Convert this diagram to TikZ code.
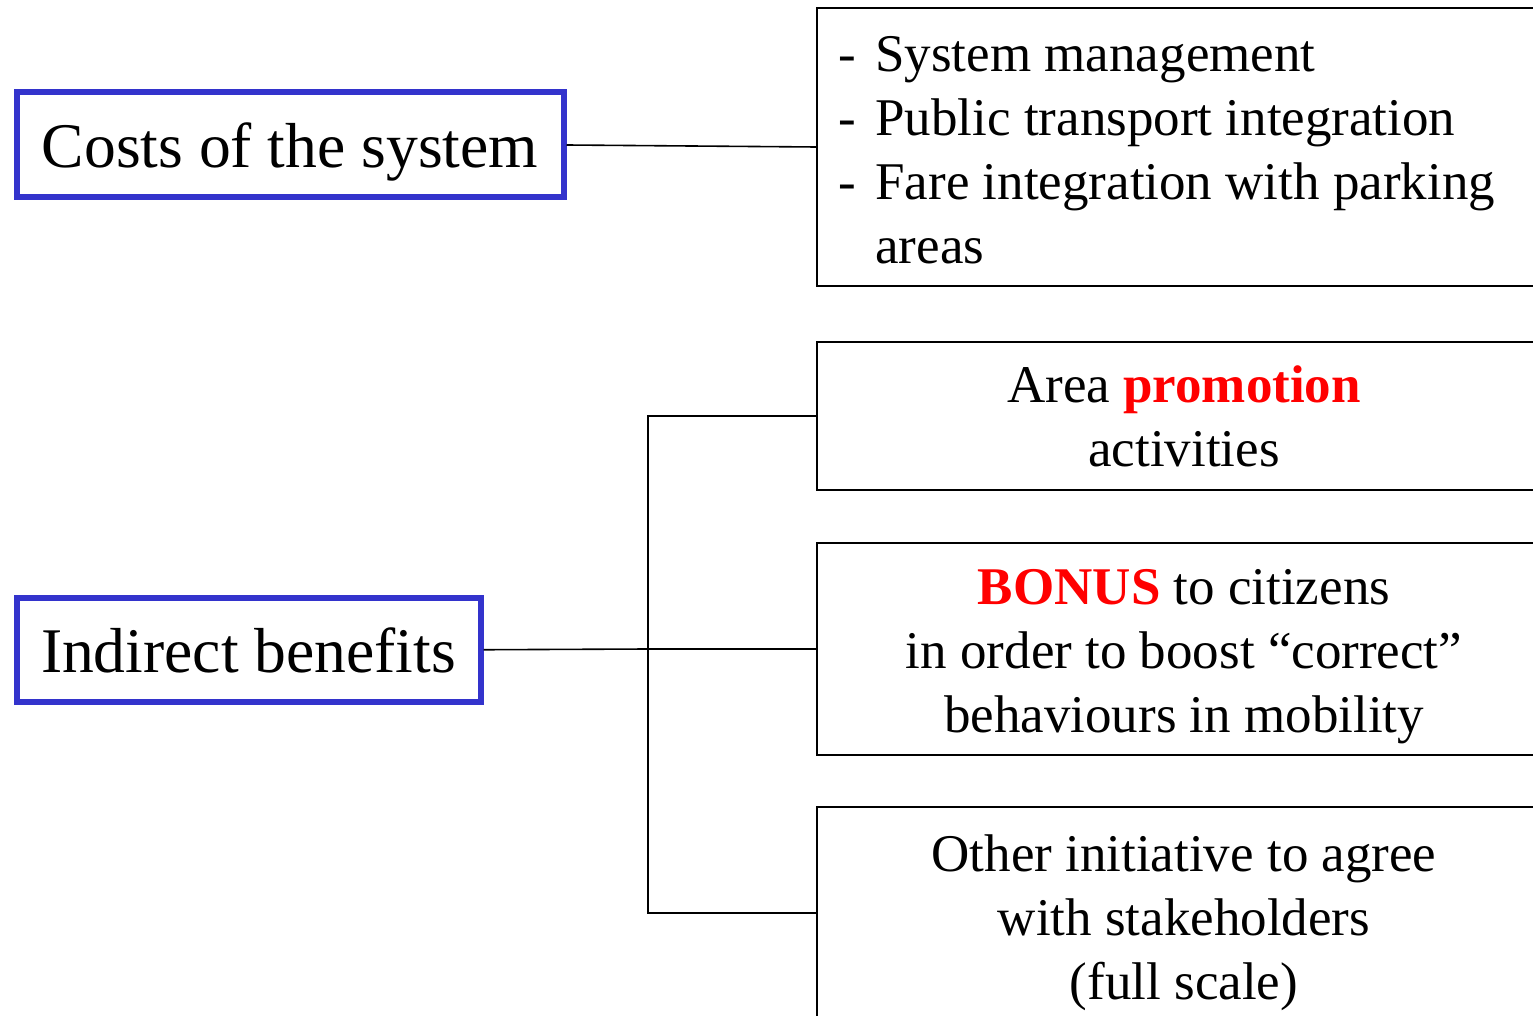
\documentclass[tikz,border=0pt]{standalone}
\usepackage{fontspec}
\setmainfont{Liberation Serif}
\definecolor{boxblue}{HTML}{3333CC}
\tikzset{
  bluebox/.style={draw=boxblue, line width=3pt, inner sep=0pt, text height=23pt, text depth=0pt, font=\fontsize{31.8}{36}\selectfont},
  itembox/.style={draw=black, line width=0.8pt, inner sep=0pt, minimum width=367pt},
  itemtext/.style={inner sep=0pt, font=\fontsize{26.5}{32}\selectfont},
  conn/.style={draw=black, line width=0.8pt}
}
\begin{document}
\begin{tikzpicture}[x=0.5pt,y=-0.5pt]
\useasboundingbox (0,0) rectangle (1533,1016);
\begin{scope}
\clip (0,0) rectangle (1533,1016);
% left boxes
\node[bluebox, minimum width=273.5pt, minimum height=52.5pt] (costs) at (290,145) {Costs of the system};
\node[bluebox, minimum width=232pt, minimum height=51.75pt] (ind) at (248.5,649.75) {Indirect benefits};
% right boxes
\node[itembox, minimum height=139pt] (sys) at (1184,147) {};
\node[itembox, minimum height=74pt] (area) at (1184,416) {};
\node[itembox, minimum height=106pt] (bonus) at (1184,649) {};
\node[itembox, minimum height=106pt] (other) at (1184,913) {};
% texts
\node[itemtext, anchor=base west] (systxt) at (838,72) {\begin{tabular}[t]{@{}l@{}}
\makebox[18.5pt][l]{-}System management\\
\makebox[18.5pt][l]{-}Public transport integration\\
\makebox[18.5pt][l]{-}Fare integration with parking\\
\hspace*{18.5pt}areas
\end{tabular}};
\node[itemtext, anchor=base] (areatxt) at (1184,403) {\begin{tabular}[t]{@{}c@{}}
Area \textcolor{red}{\textbf{promotion}}\\
activities
\end{tabular}};
\node[itemtext, anchor=base] (bonustxt) at (1184,604) {\begin{tabular}[t]{@{}c@{}}
\textcolor{red}{\textbf{BONUS}} to citizens\\
in order to boost ``correct''\\
behaviours in mobility
\end{tabular}};
\node[itemtext, anchor=base] (othertxt) at (1184,871) {\begin{tabular}[t]{@{}c@{}}
Other initiative to agree\\
with stakeholders\\
(full scale)
\end{tabular}};
% connectors
\coordinate (j) at (648,649);
\draw[conn] (costs.east) -- (sys.west);
\draw[conn] (ind.east) -- (j);
\draw[conn] (j) -- (bonus.west);
\draw[conn] (area.west) -- (area.west -| j) -- (other.west -| j) -- (other.west);
\end{scope}
\end{tikzpicture}
\end{document}
